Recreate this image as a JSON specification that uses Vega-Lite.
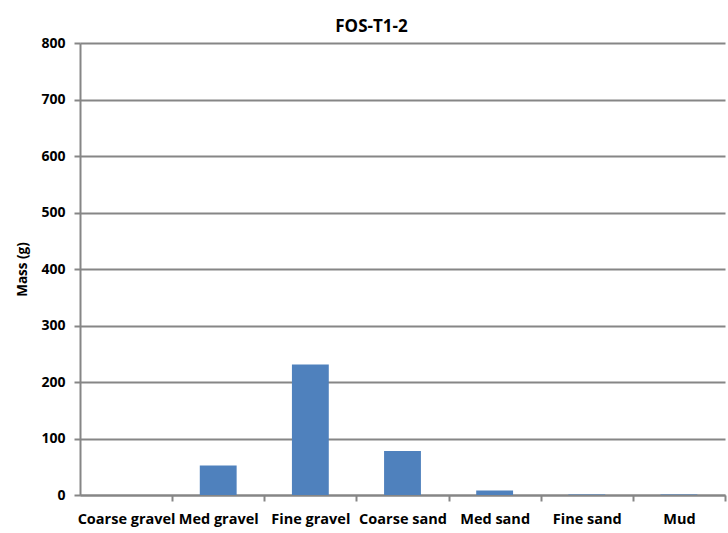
{
  "$schema": "https://vega.github.io/schema/vega-lite/v6.json",
  "width": 645,
  "height": 452,
  "autosize": {"type": "none"},
  "padding": {"left": 80, "top": 43, "right": 3, "bottom": 38},
  "background": "white",
  "title": {
    "text": "FOS-T1-2",
    "font": "Open Sans",
    "fontSize": 17,
    "fontWeight": "bold",
    "color": "#000000",
    "anchor": "middle",
    "dx": -31,
    "offset": 0
  },
  "data": {
    "values": [
      {"fraction": "Coarse gravel", "mass": 0},
      {"fraction": "Med gravel", "mass": 52},
      {"fraction": "Fine gravel", "mass": 231},
      {"fraction": "Coarse sand", "mass": 78},
      {"fraction": "Med sand", "mass": 8},
      {"fraction": "Fine sand", "mass": 1},
      {"fraction": "Mud", "mass": 1}
    ]
  },
  "mark": {"type": "bar", "color": "#4F81BD"},
  "encoding": {
    "x": {
      "field": "fraction",
      "type": "nominal",
      "sort": null,
      "scale": {"paddingInner": 0.6, "paddingOuter": 0.3},
      "axis": {
        "title": null,
        "labelAngle": 0,
        "labelFont": "Open Sans",
        "labelFontSize": 14.5,
        "labelFontWeight": "bold",
        "labelColor": "#000000",
        "labelPadding": 11,
        "labelOverlap": false,
        "labelLimit": 0,
        "labelBound": false,
        "labelOffset": -46.07,
        "ticks": true,
        "tickOffset": 46.07,
        "tickExtra": false,
        "tickColor": "#868686",
        "tickSize": 6,
        "tickWidth": 2,
        "domainColor": "#868686",
        "domainWidth": 2
      }
    },
    "y": {
      "field": "mass",
      "type": "quantitative",
      "scale": {"domain": [0, 800]},
      "axis": {
        "title": "Mass (g)",
        "titleFont": "Open Sans",
        "titleFontSize": 13.5,
        "titleFontWeight": "bold",
        "titleColor": "#000000",
        "titlePadding": 11,
        "values": [0, 100, 200, 300, 400, 500, 600, 700, 800],
        "labelFont": "Open Sans",
        "labelFontSize": 14,
        "labelFontWeight": "bold",
        "labelColor": "#000000",
        "labelPadding": 9,
        "tickColor": "#868686",
        "tickSize": 6,
        "tickWidth": 2,
        "domainColor": "#868686",
        "domainWidth": 2,
        "grid": true,
        "gridColor": "#868686",
        "gridWidth": 2
      }
    }
  },
  "config": {"view": {"stroke": null}}
}
